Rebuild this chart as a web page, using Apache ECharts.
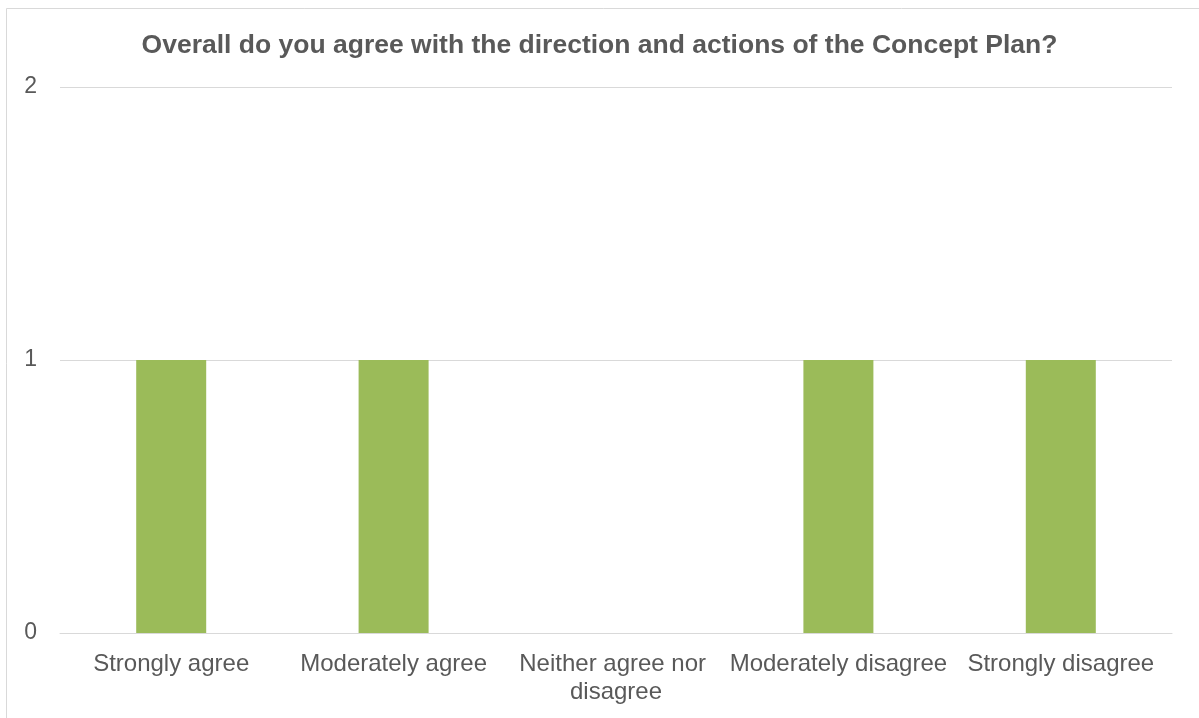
<!DOCTYPE html>
<html>
<head>
<meta charset="utf-8">
<script src="https://cdn.jsdelivr.net/npm/echarts@6/dist/echarts.min.js"></script>
<style>
  html, body { margin: 0; padding: 0; background: #ffffff; }
  #chart { width: 1199px; height: 718px; }
</style>
</head>
<body>
<div id="chart"></div>
<script>
const chartTitle = 'Overall do you agree with the direction and actions of the Concept Plan?';
const categories = ['Strongly agree', 'Moderately agree', 'Neither agree nor disagree', 'Moderately disagree', 'Strongly disagree'];
const responses = [1, 1, 0, 1, 1];
const yTicks = [0, 1, 2];

const chart = echarts.init(document.getElementById('chart'), null, { renderer: 'canvas' });
const font = '"Liberation Sans", Arial, Helvetica, sans-serif';

chart.setOption({
  backgroundColor: '#ffffff',
  animation: false,
  graphic: [{
    type: 'rect',
    shape: { x: 6.5, y: 8.5, width: 1250, height: 760 },
    style: { fill: 'none', stroke: '#d9d9d9', lineWidth: 1 },
    silent: true
  }],
  title: {
    text: chartTitle,
    left: 'center',
    top: 27,
    textStyle: { fontFamily: font, fontSize: 26.5, fontWeight: 'bold', color: '#595959' }
  },
  grid: { left: 60, right: 27, top: 87, bottom: 85, containLabel: false },
  xAxis: {
    type: 'category',
    data: categories,
    axisLine: { show: true, lineStyle: { color: '#d9d9d9', width: 1 } },
    axisTick: { show: false },
    axisLabel: {
      interval: 0,
      margin: 17,
      width: 226,
      overflow: 'break',
      lineHeight: 28,
      fontFamily: font,
      fontSize: 24,
      color: '#595959'
    }
  },
  yAxis: {
    type: 'value',
    min: yTicks[0],
    max: yTicks[yTicks.length - 1],
    interval: 1,
    axisLine: { show: false },
    axisTick: { show: false },
    splitLine: { lineStyle: { color: '#d9d9d9', width: 1 } },
    axisLabel: {
      margin: 23,
      fontFamily: font,
      fontSize: 23,
      color: '#595959'
    }
  },
  series: [{
    type: 'bar',
    data: responses,
    barWidth: 70,
    itemStyle: { color: '#9bbb59' }
  }]
});
</script>
</body>
</html>
